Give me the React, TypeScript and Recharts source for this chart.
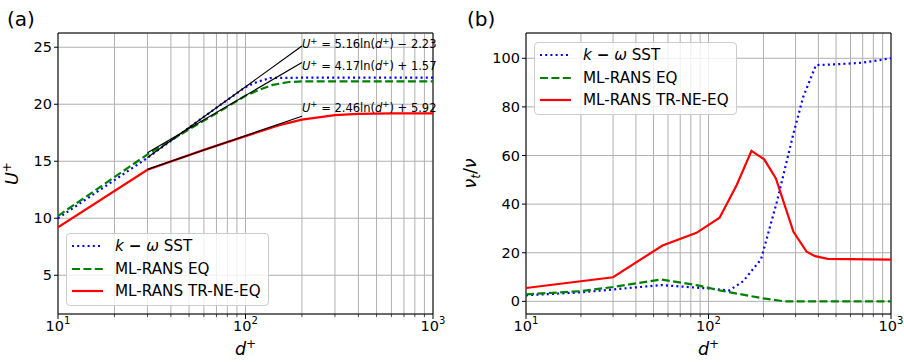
import React from 'react';
import {
  LineChart,
  Line,
  XAxis,
  YAxis,
  CartesianGrid,
  ReferenceArea,
  ReferenceDot,
  Legend,
} from 'recharts';

const FONT = '"DejaVu Sans", sans-serif';

// log axis: every integer multiple gets a grid line, decades get a label
const dTicks = [10, 20, 30, 40, 50, 60, 70, 80, 90, 100, 200, 300, 400, 500, 600, 700, 800, 900, 1000];
const decades = [10, 100, 1000];

// (a) mean velocity profiles
const uTicks = [5, 10, 15, 20, 25];
const sstD = [10, 30, 50, 70, 100, 115, 135, 200, 1000];
const sstU = [10.0, 15.3, 17.95, 19.7, 21.5, 21.95, 22.3, 22.33, 22.33];
const eqD = [10, 30, 50, 70, 100, 120, 140, 170, 200, 1000];
const eqU = [10.2, 15.6, 17.8, 19.2, 20.75, 21.3, 21.7, 21.95, 22.0, 22.0];
const trD = [10, 30, 60, 100, 150, 200, 300, 400, 600, 1000];
const trU = [9.2, 14.25, 16.0, 17.2, 18.15, 18.65, 19.05, 19.15, 19.2, 19.2];

// log-law fits, drawn from d+ = 30 to d+ = 200
const fitD = [30, 200];
const fitA = [15.32, 25.11]; // 5.16 ln(d+) - 2.23
const fitB = [15.75, 23.66]; // 4.17 ln(d+) + 1.57
const fitC = [14.29, 18.95]; // 2.46 ln(d+) + 5.92

// (b) eddy viscosity ratio
const nuTicks = [0, 20, 40, 60, 80, 100];
const sstNuD = [10, 20, 30, 55, 100, 130, 155, 194, 237, 292, 330, 388, 500, 700, 1000];
const sstNu = [2.5, 3.7, 4.9, 6.7, 5.3, 4.5, 8.3, 17.3, 41, 69, 84, 97.2, 97.5, 98.2, 100];
const eqNuD = [10, 20, 30, 55, 86, 115, 200, 260, 1000];
const eqNu = [2.9, 4.2, 5.9, 9.0, 6.7, 4.5, 1.2, 0, 0];
const trNuD = [10, 30, 56, 86, 115, 143, 172, 202, 234, 292, 345, 384, 450, 1000];
const trNu = [5.5, 9.9, 23, 28.2, 34.4, 48, 61.9, 58.4, 50.6, 28.6, 20.4, 18.6, 17.5, 17.2];

const seriesNames = ['k-ω SST', 'ML-RANS EQ', 'ML-RANS TR-NE-EQ'];

const toPoints = (ds: number[], vs: number[]) => ds.map((d, i) => ({ d, v: vs[i] }));

const styles = [
  { stroke: '#0000ff', dash: '2 3.2' },
  { stroke: '#008000', dash: '8 3.4' },
  { stroke: '#ff0000', dash: undefined },
];

function DecadeTick(props: any) {
  const { x, y, payload } = props;
  const major = decades.includes(payload.value);
  const exp = Math.round(Math.log10(payload.value));
  return (
    <g>
      <line x1={x} x2={x} y1={y} y2={y + (major ? 5 : 3)} stroke="#000" strokeWidth={major ? 1 : 0.7} />
      {major && (
        <text x={x} y={y + 17} textAnchor="middle" fontSize={14.5} fontFamily={FONT} fill="#000">
          10
          <tspan dy={-7} fontSize={10}>
            {exp}
          </tspan>
        </text>
      )}
    </g>
  );
}

function ValueTick(props: any) {
  const { x, y, payload } = props;
  return (
    <g>
      <line x1={x - 4} x2={x} y1={y} y2={y} stroke="#000" strokeWidth={1} />
      <text x={x - 6} y={y + 5} textAnchor="end" fontSize={14.5} fontFamily={FONT} fill="#000">
        {payload.value}
      </text>
    </g>
  );
}

function SeriesLabel({ name }: { name: string }) {
  if (name.startsWith('k-')) {
    return (
      <span>
        <i>k</i> <b>−</b> <i>ω</i> SST
      </span>
    );
  }
  return <span>{name}</span>;
}

function LegendBox(props: any) {
  const items = (props.payload || [])
    .filter((p: any) => p.type !== 'none')
    .sort((a: any, b: any) => seriesNames.indexOf(a.value) - seriesNames.indexOf(b.value));
  return (
    <div
      style={{
        boxSizing: 'border-box',
        width: 203,
        border: '1px solid #cccccc',
        borderRadius: 4,
        background: 'rgba(255,255,255,0.8)',
        padding: '1px 0 3px 5px',
        fontFamily: FONT,
        fontSize: 15.2,
        color: '#000',
      }}
    >
      {items.map((p: any) => (
        <div key={p.value} style={{ display: 'flex', alignItems: 'center', height: 22.4 }}>
          <svg width={31} height={10} style={{ flex: 'none' }}>
            <line
              x1={0}
              x2={31}
              y1={5}
              y2={5}
              stroke={p.color}
              strokeWidth={2.2}
              strokeDasharray={p.payload?.strokeDasharray}
            />
          </svg>
          <span style={{ marginLeft: 12, whiteSpace: 'nowrap' }}>
            <SeriesLabel name={p.value} />
          </span>
        </div>
      ))}
    </div>
  );
}

function LogLawText(props: any) {
  const { viewBox, coef, sign, intercept } = props;
  return (
    <text x={viewBox.x} y={viewBox.y} fontFamily={FONT} fontSize={11.5} fill="#000" style={{ whiteSpace: 'pre' }}>
      <tspan fontStyle="italic">U</tspan>
      <tspan dy={-4.5} fontSize={8.5}>+</tspan>
      <tspan dy={4.5}>{` = ${coef}ln(`}</tspan>
      <tspan fontStyle="italic">d</tspan>
      <tspan dy={-4.5} fontSize={8.5}>+</tspan>
      <tspan dy={4.5}>{`) ${sign} ${intercept}`}</tspan>
    </text>
  );
}

const logLawNotes = [
  { u: 24.92, coef: '5.16', sign: '−', intercept: '2.23' },
  { u: 23.0, coef: '4.17', sign: '+', intercept: '1.57' },
  { u: 19.35, coef: '2.46', sign: '+', intercept: '5.92' },
];

function DPlusLabel(props: any) {
  const { viewBox } = props;
  return (
    <text x={viewBox.x + viewBox.width / 2} y={viewBox.y + 41} textAnchor="middle" fontFamily={FONT} fontSize={17.5} fill="#000">
      <tspan fontStyle="italic">d</tspan>
      <tspan dy={-7} fontSize={12}>+</tspan>
    </text>
  );
}

function ULabel(props: any) {
  const { viewBox } = props;
  const cx = 18;
  const cy = viewBox.y + viewBox.height / 2;
  return (
    <text x={cx} y={cy} textAnchor="middle" fontFamily={FONT} fontSize={17.5} fill="#000" transform={`rotate(-90, ${cx}, ${cy})`}>
      <tspan fontStyle="italic">U</tspan>
      <tspan dy={-7} fontSize={12}>+</tspan>
    </text>
  );
}

function NuLabel(props: any) {
  const { viewBox } = props;
  const cx = 26;
  const cy = viewBox.y + viewBox.height / 2;
  return (
    <text x={cx} y={cy} textAnchor="middle" fontFamily={FONT} fontSize={17.5} fill="#000" transform={`rotate(-90, ${cx}, ${cy})`}>
      <tspan fontStyle="italic">ν</tspan>
      <tspan dy={4} fontSize={12} fontStyle="italic">t</tspan>
      <tspan dy={-4}>/</tspan>
      <tspan fontStyle="italic">ν</tspan>
    </text>
  );
}

const uDomain: [number, number] = [1.6, 26.25];
const nuDomain: [number, number] = [-5.2, 110.4];

function VelocityPanel() {
  return (
    <LineChart width={450} height={362} margin={{ top: 33, right: 17, bottom: 0, left: 0 }}>
      <CartesianGrid stroke="#b0b0b0" strokeWidth={1} />
      <XAxis
        dataKey="d"
        type="number"
        scale="log"
        domain={[10, 1000]}
        ticks={dTicks}
        interval={0}
        allowDataOverflow
        axisLine={false}
        tickLine={false}
        tickSize={0}
        tickMargin={0}
        height={48}
        tick={(p: any) => <DecadeTick {...p} />}
        label={{ content: (p: any) => <DPlusLabel {...p} /> }}
      />
      <YAxis
        dataKey="v"
        type="number"
        domain={uDomain}
        ticks={uTicks}
        interval={0}
        allowDataOverflow
        axisLine={false}
        tickLine={false}
        tickSize={0}
        tickMargin={0}
        width={58}
        tick={(p: any) => <ValueTick {...p} />}
        label={{ content: (p: any) => <ULabel {...p} /> }}
      />
      {[toPoints(sstD, sstU), toPoints(eqD, eqU), toPoints(trD, trU)].map((pts, i) => (
        <Line
          key={seriesNames[i]}
          name={seriesNames[i]}
          data={pts}
          dataKey="v"
          stroke={styles[i].stroke}
          strokeDasharray={styles[i].dash}
          strokeWidth={2.2}
          dot={false}
          activeDot={false}
          isAnimationActive={false}
        />
      ))}
      {[fitA, fitB, fitC].map((f, i) => (
        <Line
          key={`fit${i}`}
          data={toPoints(fitD, f)}
          dataKey="v"
          stroke="#000"
          strokeWidth={1.2}
          dot={false}
          activeDot={false}
          legendType="none"
          isAnimationActive={false}
        />
      ))}
      {logLawNotes.map((n) => (
        <ReferenceDot
          key={n.coef}
          x={200}
          y={n.u}
          r={0}
          fill="none"
          stroke="none"
          ifOverflow="visible"
          label={{ content: (p: any) => <LogLawText {...p} {...n} /> }}
        />
      ))}
      <ReferenceArea x1={10} x2={1000} y1={uDomain[0]} y2={uDomain[1]} fill="none" stroke="#000" strokeWidth={1} ifOverflow="visible" />
      <Legend
        layout="vertical"
        align="center"
        verticalAlign="middle"
        content={(p: any) => <LegendBox {...p} />}
        wrapperStyle={{ left: 66, top: 233, width: 'auto', height: 'auto' }}
      />
    </LineChart>
  );
}

function ViscosityPanel() {
  return (
    <LineChart width={454} height={362} margin={{ top: 33, right: 13, bottom: 0, left: 0 }}>
      <CartesianGrid stroke="#b0b0b0" strokeWidth={1} />
      <XAxis
        dataKey="d"
        type="number"
        scale="log"
        domain={[10, 1000]}
        ticks={dTicks}
        interval={0}
        allowDataOverflow
        axisLine={false}
        tickLine={false}
        tickSize={0}
        tickMargin={0}
        height={48}
        tick={(p: any) => <DecadeTick {...p} />}
        label={{ content: (p: any) => <DPlusLabel {...p} /> }}
      />
      <YAxis
        dataKey="v"
        type="number"
        domain={nuDomain}
        ticks={nuTicks}
        interval={0}
        allowDataOverflow
        axisLine={false}
        tickLine={false}
        tickSize={0}
        tickMargin={0}
        width={76}
        tick={(p: any) => <ValueTick {...p} />}
        label={{ content: (p: any) => <NuLabel {...p} /> }}
      />
      {[toPoints(sstNuD, sstNu), toPoints(eqNuD, eqNu), toPoints(trNuD, trNu)].map((pts, i) => (
        <Line
          key={seriesNames[i]}
          name={seriesNames[i]}
          data={pts}
          dataKey="v"
          stroke={styles[i].stroke}
          strokeDasharray={styles[i].dash}
          strokeWidth={2.2}
          dot={false}
          activeDot={false}
          isAnimationActive={false}
        />
      ))}
      <ReferenceArea x1={10} x2={1000} y1={nuDomain[0]} y2={nuDomain[1]} fill="none" stroke="#000" strokeWidth={1} ifOverflow="visible" />
      <Legend
        layout="vertical"
        align="center"
        verticalAlign="middle"
        content={(p: any) => <LegendBox {...p} />}
        wrapperStyle={{ left: 84, top: 42, width: 'auto', height: 'auto' }}
      />
    </LineChart>
  );
}

export default function App() {
  return (
    <div style={{ position: 'absolute', left: 0, top: 0, width: 904, height: 362, background: '#fff' }}>
      <div style={{ position: 'absolute', left: 0, top: 0 }}>
        <VelocityPanel />
      </div>
      <div style={{ position: 'absolute', left: 450, top: 0 }}>
        <ViscosityPanel />
      </div>
      <svg width={904} height={40} style={{ position: 'absolute', left: 0, top: 0, pointerEvents: 'none' }}>
        <text x={7} y={26} fontFamily={FONT} fontSize={20} fill="#000">(a)</text>
        <text x={467} y={26} fontFamily={FONT} fontSize={20} fill="#000">(b)</text>
      </svg>
    </div>
  );
}
